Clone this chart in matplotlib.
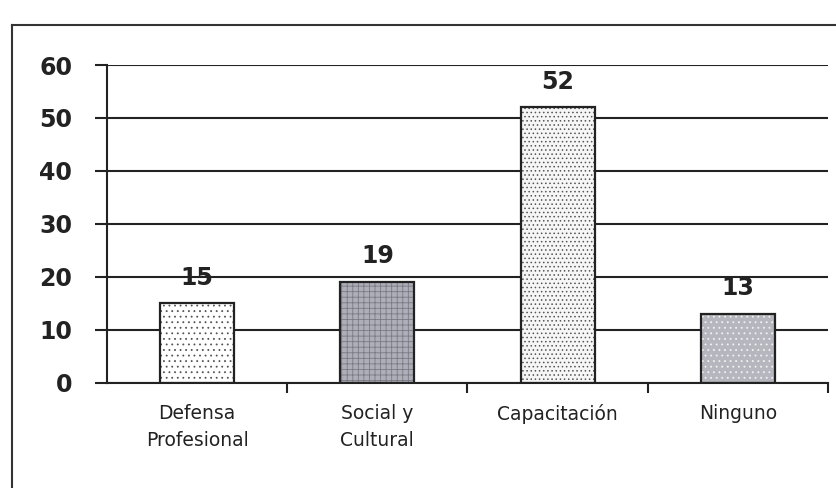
import matplotlib.pyplot as plt
from matplotlib.lines import Line2D

plt.rcParams['font.family'] = ['DejaVu Sans']
plt.rcParams['hatch.linewidth'] = 0.6

categorias = ['Defensa\nProfesional', 'Social y\nCultural', 'Capacitación', 'Ninguno']
valores = [15, 19, 52, 13]
yticks = [0, 10, 20, 30, 40, 50, 60]

caras = ['#ffffff', '#aeaeb8', '#f6f6f6', '#b6b6be']
tramas = ['...', '+++', '....', '...']
color_trama = ['#555555', '#7a7a84', '#555555', '#f2f2f2']

fig = plt.figure(figsize=(8.37, 4.88), dpi=100)
ax = fig.add_axes([0.1278, 0.2152, 0.8614, 0.6516])

x = range(len(valores))
# relleno con trama
ax.bar(x, valores, width=0.41, color=caras, linewidth=0, zorder=3)
for i in x:
    ax.bar(i, valores[i], width=0.41, color='none', hatch=tramas[i],
           edgecolor=color_trama[i], linewidth=0, zorder=3)
# borde
ax.bar(x, valores, width=0.41, fill=False, edgecolor='#222222', linewidth=1.6, zorder=4)

for i in x:
    ax.annotate(str(valores[i]), (i, valores[i]), xytext=(0, 10), textcoords='offset points',
                ha='center', va='bottom', fontsize=17, fontweight='bold', color='#222222')

ax.set_xlim(-0.5, 3.5)
ax.set_ylim(0, 60)
ax.set_yticks(yticks)
ax.set_yticklabels([str(v) for v in yticks], fontsize=17, fontweight='bold', color='#222222')
ax.tick_params(axis='y', direction='out', length=9, width=1.5, color='#222222', pad=16)
ax.grid(axis='y', color='#222222', linewidth=1.5, zorder=1)

ax.set_xticks(list(x))
ax.set_xticklabels(categorias, fontsize=13.5, color='#222222', linespacing=1.55)
ax.tick_params(axis='x', which='major', length=0, pad=15)
ax.set_xticks([0.5, 1.5, 2.5, 3.5], minor=True)
ax.tick_params(axis='x', which='minor', direction='out', length=7, width=1.5, color='#222222')

for s in ['top', 'right']:
    ax.spines[s].set_visible(False)
for s in ['left', 'bottom']:
    ax.spines[s].set_linewidth(1.5)
    ax.spines[s].set_color('#222222')
    ax.spines[s].set_zorder(5)

# marco exterior
fig.add_artist(Line2D([0.0143, 0.0143], [0.0, 0.9488], color='#333333', lw=1.5))
fig.add_artist(Line2D([0.0143, 1.0], [0.9488, 0.9488], color='#333333', lw=1.5))

fig.savefig('out.png', dpi=100)
